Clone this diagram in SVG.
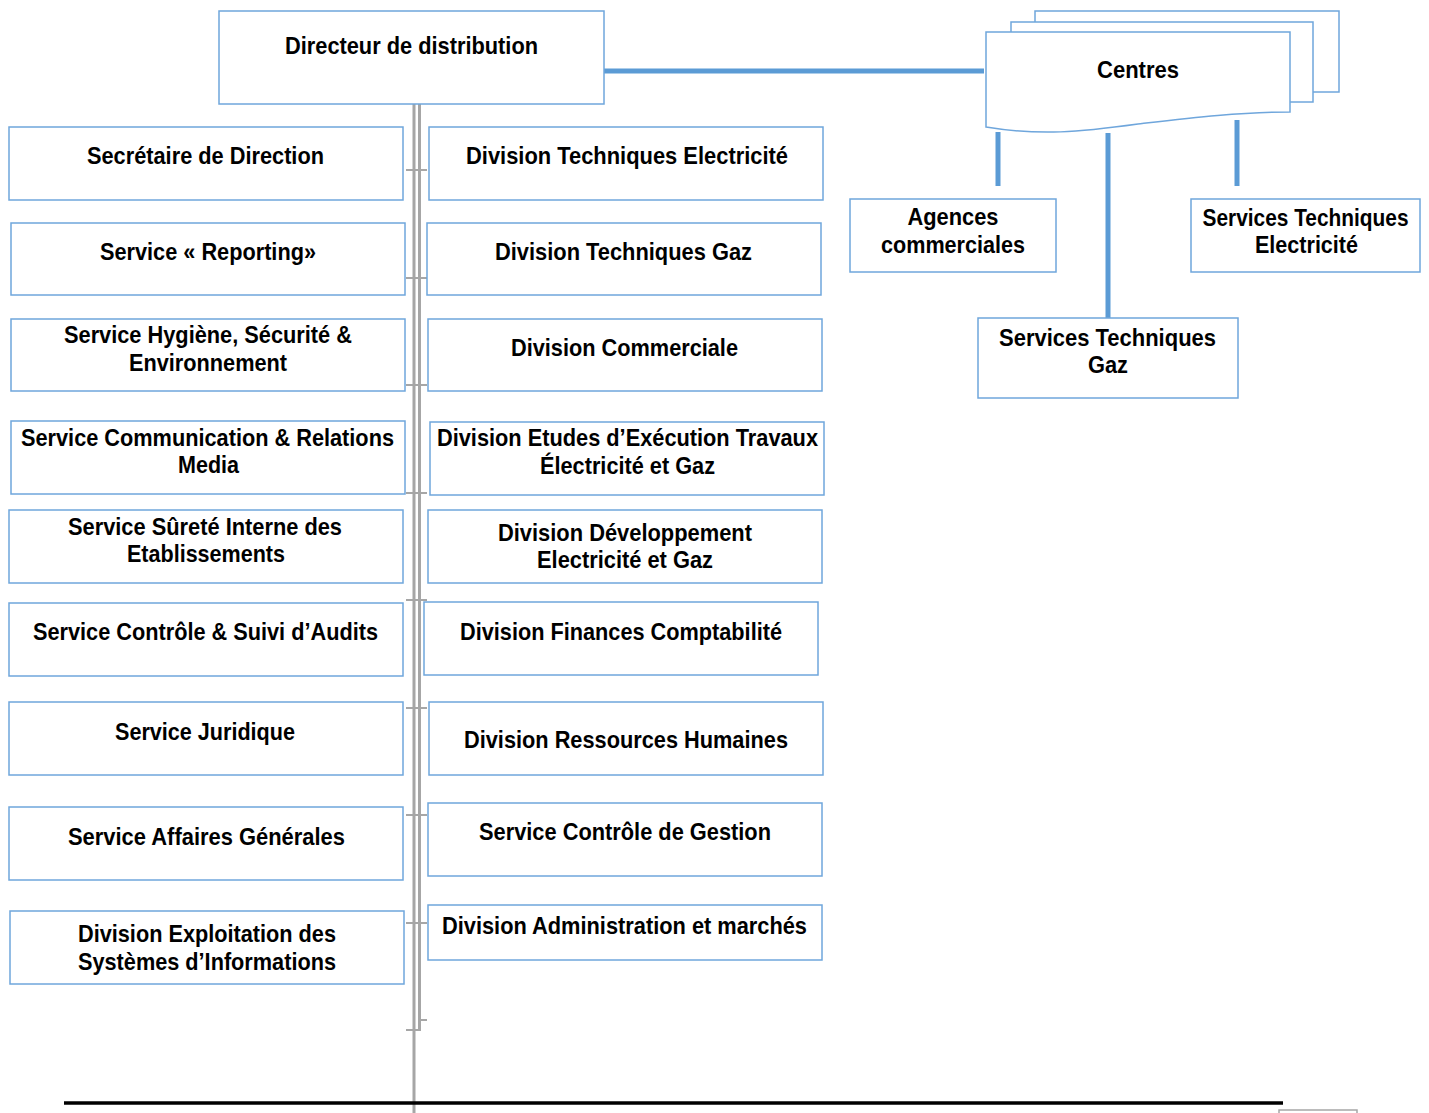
<svg xmlns="http://www.w3.org/2000/svg" width="1429" height="1113" viewBox="0 0 1429 1113">
<style>
.box{fill:#ffffff;stroke:#6fa6dc;stroke-width:1.5}
.t{font-family:"Liberation Sans Narrow","Liberation Sans",Arial,sans-serif;font-weight:bold;font-size:24px;fill:#000;text-anchor:middle}
.c{font-family:"Liberation Sans",Arial,sans-serif;font-weight:bold;font-size:24px;fill:#000;text-anchor:middle}
.g{stroke:#a6a6a6;stroke-width:3;fill:none}
.tk{stroke:#a6a6a6;stroke-width:2;fill:none}
.b{stroke:#5b9bd5;stroke-width:5;fill:none}
</style>
<rect x="0" y="0" width="1429" height="1113" fill="#ffffff"/>

<g id="connectors">
<line class="g" x1="414" y1="104" x2="414" y2="1113"/>
<line class="g" x1="419.5" y1="104" x2="419.5" y2="1031"/>
<line class="tk" x1="406" y1="170" x2="427" y2="170"/>
<line class="tk" x1="406" y1="278" x2="427" y2="278"/>
<line class="tk" x1="406" y1="385" x2="427" y2="385"/>
<line class="tk" x1="406" y1="493" x2="427" y2="493"/>
<line class="tk" x1="406" y1="600" x2="427" y2="600"/>
<line class="tk" x1="406" y1="708" x2="427" y2="708"/>
<line class="tk" x1="406" y1="815" x2="427" y2="815"/>
<line class="tk" x1="406" y1="923" x2="427" y2="923"/>
<line class="tk" x1="419" y1="1020" x2="427" y2="1020"/>
<line class="tk" x1="406" y1="1030" x2="420" y2="1030"/>
<line class="b" x1="601" y1="71" x2="984" y2="71"/>
<line class="b" x1="998" y1="132" x2="998" y2="186"/>
<line class="b" x1="1108" y1="133" x2="1108" y2="318"/>
<line class="b" x1="1237" y1="120" x2="1237" y2="186"/>
</g>

<g id="directeur">
<rect class="box" x="219" y="11" width="385" height="93"/>
<text class="t" x="411.5" y="54" font-size="25" textLength="253" lengthAdjust="spacingAndGlyphs">Directeur de distribution</text>
</g>

<g id="centres">
<rect class="box" x="1035" y="11" width="304" height="81"/>
<rect class="box" x="1011" y="22" width="302" height="80"/>
<path class="box" d="M986,32 H1290 V112 C1240,112 1190,118 1138,124 C1080,132 1040,136 986,127 Z"/>
<text class="c" x="1138" y="78" textLength="82" lengthAdjust="spacingAndGlyphs">Centres</text>
</g>

<g id="agences">
<rect class="box" x="850" y="199" width="206" height="73"/>
<text class="t" x="953" y="225" textLength="91" lengthAdjust="spacingAndGlyphs">Agences</text>
<text class="t" x="953" y="253" textLength="144" lengthAdjust="spacingAndGlyphs">commerciales</text>
</g>

<g id="st-elec">
<rect class="box" x="1191" y="199" width="229" height="73"/>
<text class="t" x="1305.5" y="226" font-size="23" textLength="206" lengthAdjust="spacingAndGlyphs">Services Techniques</text>
<text class="t" x="1306.5" y="253" textLength="103" lengthAdjust="spacingAndGlyphs">Electricité</text>
</g>

<g id="st-gaz">
<rect class="box" x="978" y="318" width="260" height="80"/>
<text class="t" x="1107.5" y="346" textLength="217" lengthAdjust="spacingAndGlyphs">Services Techniques</text>
<text class="t" x="1108" y="373" textLength="40" lengthAdjust="spacingAndGlyphs">Gaz</text>
</g>

<g id="secretaire">
<rect class="box" x="9" y="127" width="394" height="73"/>
<text class="t" x="205.5" y="164" textLength="237" lengthAdjust="spacingAndGlyphs">Secrétaire de Direction</text>
</g>

<g id="reporting">
<rect class="box" x="11" y="223" width="394" height="72"/>
<text class="t" x="208" y="260" textLength="216" lengthAdjust="spacingAndGlyphs">Service « Reporting»</text>
</g>

<g id="hse">
<rect class="box" x="11" y="319" width="394" height="72"/>
<text class="t" x="208" y="343" textLength="288" lengthAdjust="spacingAndGlyphs">Service Hygiène, Sécurité &amp;</text>
<text class="t" x="208" y="371" textLength="158" lengthAdjust="spacingAndGlyphs">Environnement</text>
</g>

<g id="communication">
<rect class="box" x="11" y="421" width="394" height="73"/>
<text class="t" x="207.5" y="446" textLength="373" lengthAdjust="spacingAndGlyphs">Service Communication &amp; Relations</text>
<text class="t" x="208.5" y="473" textLength="61" lengthAdjust="spacingAndGlyphs">Media</text>
</g>

<g id="surete">
<rect class="box" x="9" y="510" width="394" height="73"/>
<text class="t" x="205" y="535" textLength="274" lengthAdjust="spacingAndGlyphs">Service Sûreté Interne des</text>
<text class="t" x="206" y="562" textLength="158" lengthAdjust="spacingAndGlyphs">Etablissements</text>
</g>

<g id="audits">
<rect class="box" x="9" y="603" width="394" height="73"/>
<text class="t" x="205.5" y="640" textLength="345" lengthAdjust="spacingAndGlyphs">Service Contrôle &amp; Suivi d’Audits</text>
</g>

<g id="juridique">
<rect class="box" x="9" y="702" width="394" height="73"/>
<text class="t" x="205" y="740" textLength="180" lengthAdjust="spacingAndGlyphs">Service Juridique</text>
</g>

<g id="affaires">
<rect class="box" x="9" y="807" width="394" height="73"/>
<text class="t" x="206.5" y="845" textLength="277" lengthAdjust="spacingAndGlyphs">Service Affaires Générales</text>
</g>

<g id="exploitation">
<rect class="box" x="10" y="911" width="394" height="73"/>
<text class="t" x="207" y="942" textLength="258" lengthAdjust="spacingAndGlyphs">Division Exploitation des</text>
<text class="t" x="207" y="970" textLength="258" lengthAdjust="spacingAndGlyphs">Systèmes d’Informations</text>
</g>

<g id="dte">
<rect class="box" x="429" y="127" width="394" height="73"/>
<text class="t" x="627" y="164" textLength="322" lengthAdjust="spacingAndGlyphs">Division Techniques Electricité</text>
</g>

<g id="dtg">
<rect class="box" x="427" y="223" width="394" height="72"/>
<text class="t" x="623.5" y="260" textLength="257" lengthAdjust="spacingAndGlyphs">Division Techniques Gaz</text>
</g>

<g id="commerciale">
<rect class="box" x="428" y="319" width="394" height="72"/>
<text class="t" x="624.5" y="356" textLength="227" lengthAdjust="spacingAndGlyphs">Division Commerciale</text>
</g>

<g id="etudes">
<rect class="box" x="430" y="422" width="394" height="73"/>
<text class="t" x="627.5" y="446" textLength="381" lengthAdjust="spacingAndGlyphs">Division Etudes d’Exécution Travaux</text>
<text class="t" x="627.5" y="474" textLength="175" lengthAdjust="spacingAndGlyphs">Électricité et Gaz</text>
</g>

<g id="developpement">
<rect class="box" x="428" y="510" width="394" height="73"/>
<text class="t" x="625" y="541" textLength="254" lengthAdjust="spacingAndGlyphs">Division Développement</text>
<text class="t" x="625" y="568" textLength="176" lengthAdjust="spacingAndGlyphs">Electricité et Gaz</text>
</g>

<g id="finances">
<rect class="box" x="424" y="602" width="394" height="73"/>
<text class="t" x="621" y="640" textLength="322" lengthAdjust="spacingAndGlyphs">Division Finances Comptabilité</text>
</g>

<g id="rh">
<rect class="box" x="429" y="702" width="394" height="73"/>
<text class="t" x="626" y="748" textLength="324" lengthAdjust="spacingAndGlyphs">Division Ressources Humaines</text>
</g>

<g id="gestion">
<rect class="box" x="428" y="803" width="394" height="73"/>
<text class="t" x="625" y="840" textLength="292" lengthAdjust="spacingAndGlyphs">Service Contrôle de Gestion</text>
</g>

<g id="administration">
<rect class="box" x="428" y="905" width="394" height="55"/>
<text class="t" x="624.5" y="934" textLength="365" lengthAdjust="spacingAndGlyphs">Division Administration et marchés</text>
</g>

<g id="footer">
<line x1="64" y1="1103" x2="1283" y2="1103" stroke="#000000" stroke-width="3.5"/>
<rect x="1279" y="1110" width="78" height="10" fill="none" stroke="#a6a6a6" stroke-width="1.5"/>
</g>
</svg>
